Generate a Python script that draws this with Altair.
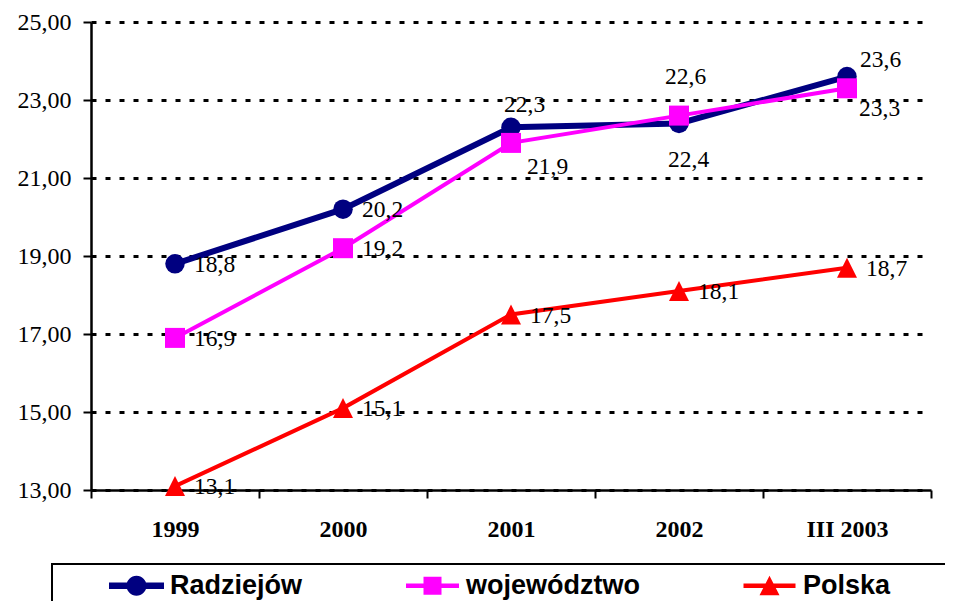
import altair as alt
import pandas as pd

# ---- data ----
categories = ["1999", "2000", "2001", "2002", "III 2003"]
series = ["Radziejów", "województwo", "Polska"]
radziejow = [18.8, 20.2, 22.3, 22.4, 23.6]
wojewodztwo = [16.9, 19.2, 21.9, 22.6, 23.3]
polska = [13.1, 15.1, 17.5, 18.1, 18.7]
y_ticks = [13, 15, 17, 19, 21, 23, 25]

rows = []
for s, vals in zip(series, [radziejow, wojewodztwo, polska]):
    for c, v in zip(categories, vals):
        rows.append({"series": s, "year": c, "value": v,
                     "label": f"{v:.1f}".replace(".", ",")})
df = pd.DataFrame(rows)

# ---- styles ----
COLORS = ["#000080", "#FF00FF", "#FF0000"]
LINE_W = [6, 4, 4]
POINT_SHAPE = ["circle", "square", "M0,-1L1,1L-1,1Z"]
POINT_SIZE = [380, 400, 400]
LEGEND_PATHS = [
    "M-2.75,-0.33H2.75V0.33H-2.75Z M-1,0A1,1,0,0,1,1,0A1,1,0,0,1,-1,0Z",
    "M-2.65,-0.22H2.65V0.22H-2.65Z M-0.9,-0.9H0.9V0.9H-0.9Z",
    "M-2.6,-0.22H2.6V0.22H-2.6Z M0,-1L1,0.95L-1,0.95Z",
]
DEFAULT_NUDGE = (19, 1)
NUDGE = {
    ("Radziejów", "2001"): (-7, -22),
    ("Radziejów", "2002"): (-11, 37),
    ("Radziejów", "III 2003"): (13, -17),
    ("województwo", "2001"): (16, 24),
    ("województwo", "2002"): (-14, -39),
    ("województwo", "III 2003"): (12, 21),
}

SERIF = "Liberation Serif"
SANS = "Liberation Sans"

x_enc = alt.X(
    "year:N", sort=categories,
    scale=alt.Scale(type="band", paddingInner=0, paddingOuter=0),
    axis=alt.Axis(title=None, labelFont=SERIF, labelFontWeight="bold",
                  labelFontSize=24, labelColor="black", labelPadding=19,
                  labelAngle=0, tickSize=8, tickWidth=2, tickColor="black",
                  tickBand="extent", domainColor="black", domainWidth=2.5,
                  grid=False),
)
y_enc = alt.Y(
    "value:Q",
    scale=alt.Scale(domain=[13, 25], nice=False, zero=False),
    axis=alt.Axis(title=None, values=y_ticks,
                  labelExpr="replace(format(datum.value, '.2f'), '.', ',')",
                  labelFont=SERIF, labelFontSize=24, labelColor="black",
                  labelPadding=12, tickSize=8, tickWidth=2, tickColor="black",
                  domainColor="black", domainWidth=2.5,
                  grid=True, gridColor="black", gridDash=[5, 9], gridWidth=3),
)

base = alt.Chart(df)
layers = []
for i, s in enumerate(series):
    layers.append(
        base.transform_filter(alt.datum.series == s)
        .mark_line(color=COLORS[i], strokeWidth=LINE_W[i])
        .encode(x=x_enc, y=y_enc)
    )
for i, s in enumerate(series):
    layers.append(
        base.transform_filter(alt.datum.series == s)
        .mark_point(filled=True, opacity=1, color=COLORS[i],
                    shape=POINT_SHAPE[i], size=POINT_SIZE[i], strokeWidth=0)
        .encode(x=x_enc, y=y_enc)
    )

# labels
special = " || ".join(
    f"(datum.series == '{s}' && datum.year == '{c}')" for (s, c) in NUDGE
)
text_style = dict(align="left", baseline="middle", font=SERIF,
                  fontSize=23.5, color="black")
layers.append(
    base.transform_filter(f"!({special})")
    .mark_text(dx=DEFAULT_NUDGE[0], dy=DEFAULT_NUDGE[1], **text_style)
    .encode(x=x_enc, y=y_enc, text="label:N")
)
for (s, c), (dx, dy) in NUDGE.items():
    layers.append(
        base.transform_filter(f"datum.series == '{s}' && datum.year == '{c}'")
        .mark_text(dx=dx, dy=dy, **text_style)
        .encode(x=x_enc, y=y_enc, text="label:N")
    )

# an empty right-hand title only widens the legend frame past the page edge
legend = alt.Legend(
    orient="none", legendX=-39, legendY=542, direction="horizontal",
    title="\u00a0", titleOrient="right", titlePadding=62, titleFontSize=2,
    padding=8, strokeColor="black",
    symbolSize=400, symbolOffset=63, labelOffset=20, columnPadding=53,
    labelFont=SANS, labelFontSize=27, labelFontWeight="bold",
    labelColor="black", labelLimit=600, symbolStrokeWidth=0, symbolOpacity=1,
)
layers.append(
    base.transform_filter("false")
    .mark_point(filled=True, opacity=1)
    .encode(
        color=alt.Color("series:N", scale=alt.Scale(domain=series, range=COLORS),
                        legend=legend),
        shape=alt.Shape("series:N", scale=alt.Scale(domain=series, range=LEGEND_PATHS),
                        legend=legend),
    )
)

chart = (
    alt.layer(*layers)
    .properties(width=840, height=468,
                padding={"left": 83, "top": 14, "right": 14, "bottom": 111},
                autosize=alt.AutoSizeParams(type="none"),
                background="white")
    .configure_view(stroke="transparent")
    .configure_legend(strokeWidth=2)
)

chart.save("out.html", embed_options={"renderer": "svg", "actions": False})
